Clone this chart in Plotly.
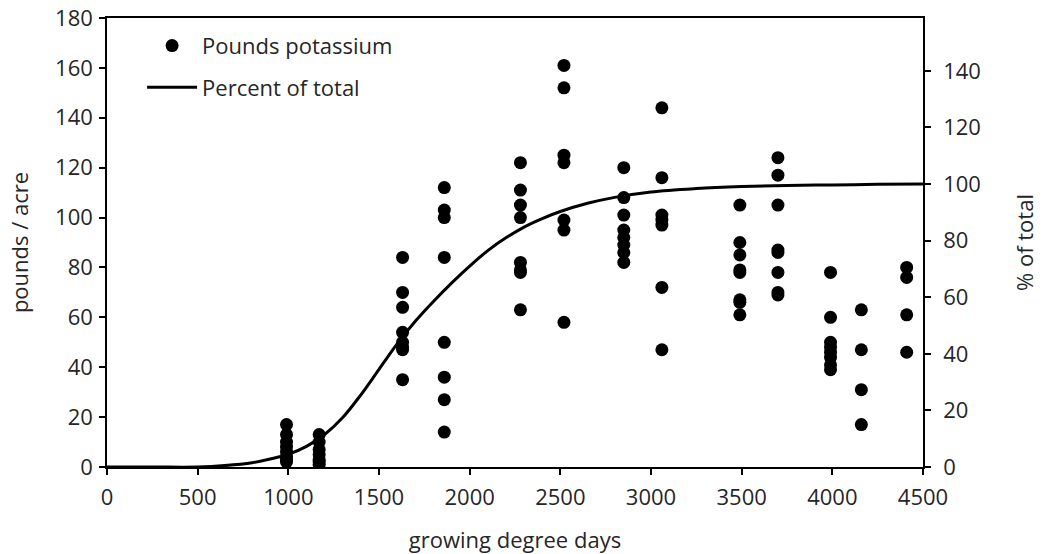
import plotly.graph_objects as go

# Potassium uptake sampled at each growing-degree-day stage (lb/acre)
gdd_stages = [990, 1170, 1630, 1860, 2280, 2520, 2850, 3060, 3490, 3700, 3990, 4160, 4410]
potassium_by_stage = [
    [17, 13, 10, 8, 6, 4, 3, 2],
    [13, 10, 7, 5, 3, 2, 1],
    [84, 70, 64, 54, 50, 48, 47, 35],
    [112, 103, 100, 84, 50, 36, 27, 14],
    [122, 111, 105, 100, 82, 79, 78, 63],
    [161, 152, 125, 122, 99, 95, 58],
    [120, 108, 101, 95, 92, 89, 86, 82],
    [144, 116, 101, 99, 97, 72, 47],
    [105, 90, 85, 79, 78, 67, 66, 61],
    [124, 117, 105, 87, 86, 78, 70, 69],
    [78, 60, 50, 48, 46, 44, 41, 39],
    [63, 47, 31, 17],
    [80, 76, 61, 46],
]

# Cumulative uptake as percent of season total
curve_gdd = [0, 250, 500, 650, 800, 900, 1000, 1100, 1200, 1300, 1400, 1500, 1600, 1700,
             1800, 1900, 2000, 2100, 2200, 2300, 2400, 2500, 2650, 2800, 3000, 3250,
             3500, 3750, 4000, 4250, 4500]
curve_pct = [0, 0, 0, 0.5, 1.5, 2.8, 4.5, 7.3, 11.5, 17.5, 25.5, 34.5, 43.5, 51.5,
             58.5, 65, 71, 76.5, 81, 84.8, 87.8, 90.3, 93.2, 95.3, 97.2, 98.4,
             99.1, 99.5, 99.7, 99.9, 100]

x_ticks = list(range(0, 4501, 500))
left_ticks = list(range(0, 181, 20))
right_ticks = list(range(0, 141, 20))

pts_x, pts_y = [], []
for g, vals in zip(gdd_stages, potassium_by_stage):
    for v in vals:
        pts_x.append(g)
        pts_y.append(v)

FONT = "'Open Sans', sans-serif"
TXT = "#262626"
FS = 22

fig = go.Figure()
fig.add_trace(go.Scatter(
    x=pts_x, y=pts_y, mode="markers", name="Pounds potassium",
    marker=dict(color="black", size=13), legendgroup="a",
))
fig.add_trace(go.Scatter(
    x=curve_gdd, y=curve_pct, mode="lines", name="Percent of total",
    line=dict(color="black", width=3, shape="spline", smoothing=1.0),
    yaxis="y2", legendgroup="b",
))

axis_common = dict(
    showgrid=False, zeroline=False, showline=True, linecolor="black", linewidth=1.5,
    ticks="outside", ticklen=6, tickwidth=1.5, tickcolor="black",
    tickfont=dict(size=FS, color=TXT), automargin=False,
)

fig.update_layout(
    width=1044, height=554,
    margin=dict(l=107, r=121, t=18, b=87, autoexpand=False),
    paper_bgcolor="white", plot_bgcolor="white",
    font=dict(family=FONT, color=TXT),
    xaxis=dict(range=[0, 4500], tickvals=x_ticks, mirror=True, ticklabelstandoff=4,
               title=dict(text="growing degree days", font=dict(size=FS), standoff=22),
               **axis_common),
    yaxis=dict(range=[0, 180], tickvals=left_ticks, ticklabelstandoff=2,
               title=dict(text="pounds / acre", font=dict(size=FS), standoff=20),
               **axis_common),
    yaxis2=dict(range=[0, 158.7], tickvals=right_ticks, overlaying="y", side="right",
                ticklabelstandoff=8,
                title=dict(text="% of total", font=dict(size=FS), standoff=38),
                **axis_common),
    legend=dict(x=0.043, y=0.985, xanchor="left", yanchor="top",
                bgcolor="rgba(0,0,0,0)", font=dict(size=FS, color=TXT),
                itemwidth=50,
                traceorder="grouped", tracegroupgap=10),
    showlegend=True,
)

fig.write_html("out.html")
